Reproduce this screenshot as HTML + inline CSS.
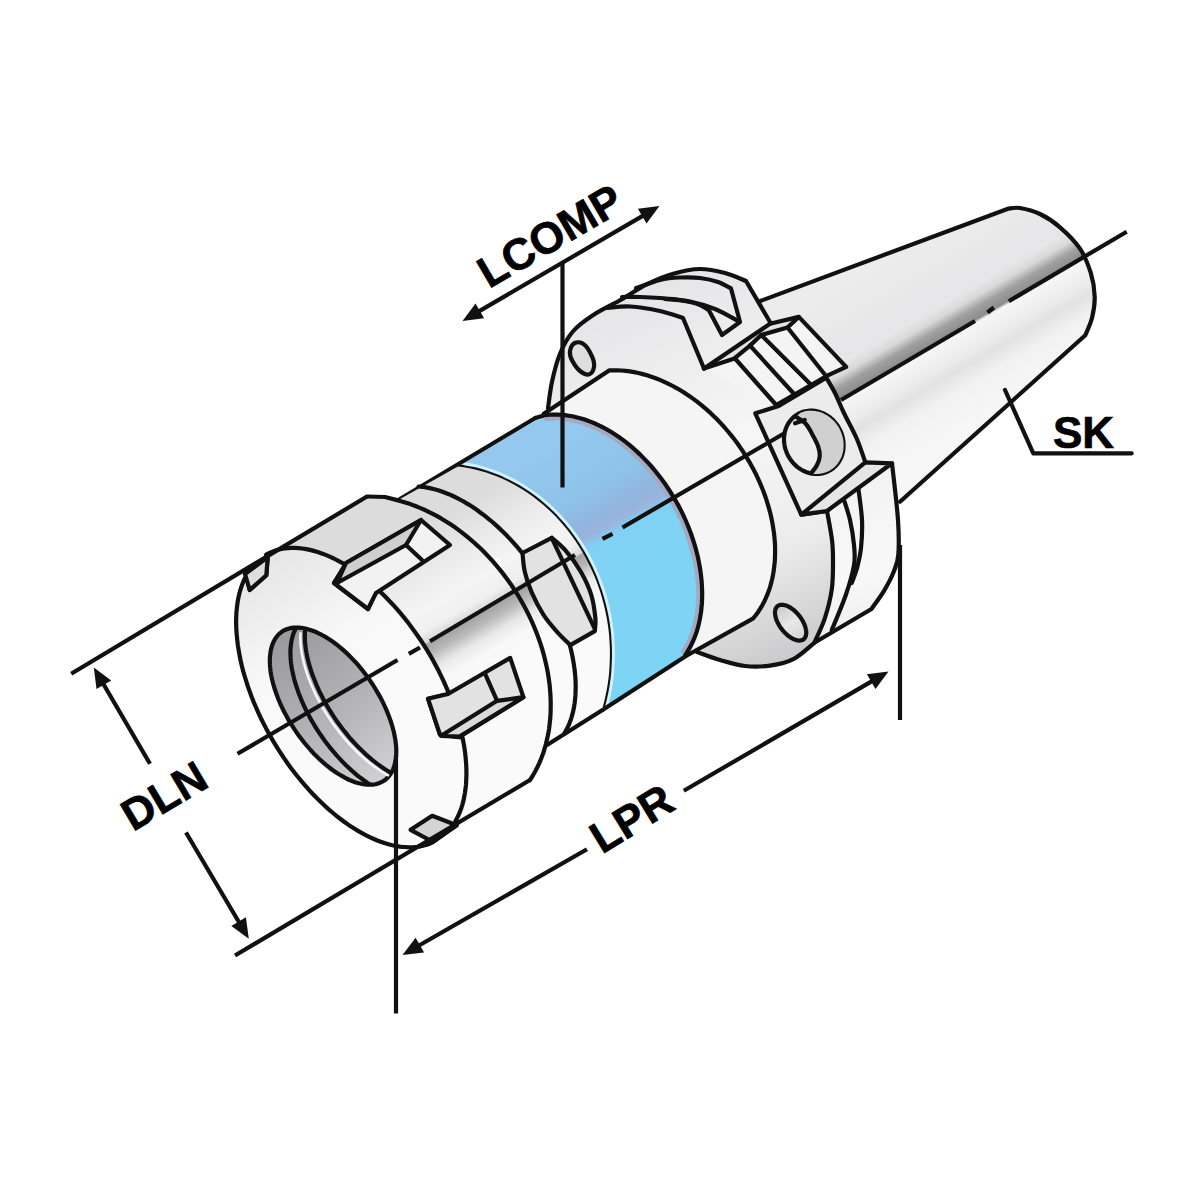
<!DOCTYPE html>
<html><head><meta charset="utf-8"><style>
html,body{margin:0;padding:0;background:#fff;overflow:hidden;}
svg{display:block;}
</style></head><body>
<svg width="1200" height="1200" viewBox="0 0 1200 1200">
<defs>
<linearGradient id="gCone" gradientUnits="userSpaceOnUse" x1="955" y1="215" x2="1050" y2="378">
 <stop offset="0" stop-color="#ececec"/>
 <stop offset="0.38" stop-color="#e6e6e8"/>
 <stop offset="0.43" stop-color="#d8d8d8"/>
 <stop offset="0.48" stop-color="#a0a0a0"/>
 <stop offset="0.535" stop-color="#8c8c8c"/>
 <stop offset="0.55" stop-color="#f6f6f6"/>
 <stop offset="0.66" stop-color="#ececec"/>
 <stop offset="0.72" stop-color="#e2e2e2"/>
 <stop offset="0.82" stop-color="#f2f2f2"/>
 <stop offset="1" stop-color="#f6f6f6"/>
</linearGradient>
<linearGradient id="gFlange" gradientUnits="userSpaceOnUse" x1="640" y1="300" x2="800" y2="670">
 <stop offset="0" stop-color="#e6e6e8"/>
 <stop offset="0.4" stop-color="#f6f6f6"/>
 <stop offset="0.7" stop-color="#ececec"/>
 <stop offset="1" stop-color="#c6c6c8"/>
</linearGradient>
<linearGradient id="gBlue" gradientUnits="userSpaceOnUse" x1="560" y1="440" x2="650" y2="600">
 <stop offset="0" stop-color="#94c8ee"/>
 <stop offset="0.3" stop-color="#8ec4ea"/>
 <stop offset="0.47" stop-color="#92b4de"/>
 <stop offset="0.53" stop-color="#9ab4dc"/>
 <stop offset="0.6" stop-color="#80d2f4"/>
 <stop offset="1" stop-color="#7ed4f4"/>
</linearGradient>
<clipPath id="cBand"><path d="M544.1,415.4L547.6,414.9L551.3,414.7L554.9,414.6L558.6,414.6L562.3,414.9L566.1,415.3L569.9,415.9L573.8,416.6L577.6,417.5L581.5,418.6L585.4,419.8L589.3,421.2L593.2,422.8L597.1,424.5L601.0,426.3L604.9,428.4L608.7,430.5L612.6,432.9L616.4,435.3L620.2,437.9L623.9,440.7L627.6,443.6L631.3,446.6L634.9,449.7L638.5,453.0L642.0,456.4L645.4,459.9L648.8,463.5L652.1,467.2L655.3,471.1L658.5,475.0L661.6,479.0L664.5,483.1L667.4,487.3L670.2,491.6L672.9,495.9L675.5,500.3L678.0,504.8L680.4,509.3L682.6,513.9L684.8,518.5L686.8,523.2L688.8,527.9L690.6,532.6L692.2,537.3L693.8,542.1L695.2,546.8L696.5,551.6L697.7,556.4L698.7,561.1L699.6,565.9L700.4,570.6L701.0,575.3L701.5,579.9L701.9,584.6L702.1,589.1L702.2,593.7L702.1,598.1L701.9,602.6L701.6,606.9L701.1,611.2L700.5,615.4L699.8,619.5L698.9,623.5L697.9,627.5L696.7,631.3L695.5,635.0L694.1,638.7L692.5,642.2L690.9,645.6L689.1,648.9L687.2,652.0L685.2,655.1L602.0,709.8L603.6,703.8L605.1,697.7L606.4,691.6L607.5,685.5L608.4,679.3L609.1,673.0L609.5,666.7L609.8,660.4L609.9,654.1L609.8,647.7L609.5,641.4L609.1,635.1L608.4,628.7L607.5,622.4L606.4,616.2L605.1,610.0L603.6,603.8L601.9,597.6L600.1,591.6L598.0,585.6L595.8,579.6L593.4,573.8L590.8,568.0L588.0,562.4L585.1,556.8L582.0,551.3L578.7,546.0L575.3,540.8L571.7,535.7L568.0,530.8L564.1,526.0L560.0,521.3L555.9,516.8L551.6,512.5L547.1,508.3L542.6,504.3L537.9,500.4L533.1,496.8L528.2,493.3L523.3,490.0L518.2,486.9L513.0,484.0L507.8,481.3L502.4,478.8L497.1,476.5L491.6,474.4L486.1,472.5L480.6,470.9L475.0,469.4L469.3,468.2L463.7,467.2L458.0,466.4Z"/></clipPath>
<linearGradient id="gSilver" gradientUnits="userSpaceOnUse" x1="400" y1="542" x2="500" y2="715">
 <stop offset="0" stop-color="#dcdcdc"/>
 <stop offset="0.18" stop-color="#eaeaea"/>
 <stop offset="0.35" stop-color="#f4f4f4"/>
 <stop offset="0.45" stop-color="#f0f0f0"/>
 <stop offset="0.5" stop-color="#d8d8d8"/>
 <stop offset="0.51" stop-color="#a4a4a4"/>
 <stop offset="0.56" stop-color="#b8b8b8"/>
 <stop offset="0.63" stop-color="#e8e8e8"/>
 <stop offset="0.7" stop-color="#f8f8f8"/>
 <stop offset="1" stop-color="#fafafa"/>
</linearGradient>
<clipPath id="cBore"><path d="M281.8,631.8L283.8,630.5L286.0,629.5L288.2,628.7L290.6,628.1L293.2,627.7L295.8,627.5L298.5,627.6L301.3,627.8L304.2,628.3L307.2,629.0L310.3,629.9L313.4,631.0L316.6,632.3L319.8,633.8L323.0,635.5L326.3,637.4L329.6,639.5L332.9,641.8L336.2,644.2L339.5,646.8L342.8,649.6L346.1,652.6L349.3,655.7L352.4,658.9L355.6,662.2L358.6,665.7L361.6,669.3L364.5,673.0L367.4,676.8L370.1,680.6L372.7,684.5L375.2,688.5L377.6,692.6L379.9,696.6L382.1,700.7L384.1,704.8L386.0,709.0L387.7,713.1L389.3,717.2L390.7,721.2L392.0,725.2L393.1,729.2L394.1,733.1L394.8,736.9L395.5,740.7L395.9,744.3L396.2,747.9L396.3,751.3L396.2,754.6L395.9,757.8L395.5,760.8L394.9,763.7L394.1,766.4L393.2,769.0L392.1,771.4L390.9,773.6L389.4,775.6L387.9,777.4L386.1,779.1L384.3,780.5L382.3,781.7L380.1,782.7L377.8,783.6L375.4,784.2L372.9,784.6L370.3,784.7L367.6,784.7L364.8,784.4L361.9,784.0L358.9,783.3L355.8,782.4L352.7,781.3L349.5,780.0L346.3,778.5L343.1,776.7L339.8,774.8L336.5,772.8L333.2,770.5L329.9,768.0L326.6,765.4L323.3,762.6L320.0,759.7L316.8,756.6L313.6,753.4L310.5,750.0L307.5,746.5L304.5,743.0L301.6,739.3L298.7,735.5L296.0,731.6L293.4,727.7L290.9,723.7L288.4,719.7L286.2,715.6L284.0,711.5L282.0,707.4L280.1,703.3L278.4,699.2L276.8,695.1L275.4,691.0L274.1,687.0L273.0,683.1L272.0,679.2L271.2,675.3L270.6,671.6L270.2,667.9L269.9,664.4L269.8,661.0L269.9,657.7L270.2,654.5L270.6,651.4L271.2,648.6L272.0,645.8L272.9,643.3L274.0,640.9L275.2,638.7L276.7,636.7L278.2,634.8L280.0,633.2Z"/></clipPath>
<linearGradient id="gBore" gradientUnits="userSpaceOnUse" x1="290" y1="640" x2="390" y2="780">
 <stop offset="0" stop-color="#9c9c9e"/>
 <stop offset="0.55" stop-color="#b6b6b8"/>
 <stop offset="1" stop-color="#d2d2d4"/>
</linearGradient>
</defs>
<path d="M760.3,301.0L1008.0,208.7C1010.0,208.6 1014.7,207.1 1020.0,208.0C1025.3,208.9 1033.3,210.8 1040.0,214.0C1046.7,217.2 1053.3,221.5 1060.0,227.3C1066.7,233.1 1074.9,241.1 1080.0,248.7C1085.1,256.3 1088.2,264.7 1090.7,272.7C1093.2,280.7 1094.5,289.1 1094.7,296.7C1094.9,304.2 1093.6,311.6 1092.0,318.0C1090.4,324.4 1086.4,332.4 1085.3,335.3L900.0,501.7L870.0,560.0L760.0,420.0Z" fill="url(#gCone)" stroke="none"/>
<path d="M760.3,301.0L1008.0,208.7C1010.0,208.6 1014.7,207.1 1020.0,208.0C1025.3,208.9 1033.3,210.8 1040.0,214.0C1046.7,217.2 1053.3,221.5 1060.0,227.3C1066.7,233.1 1074.9,241.1 1080.0,248.7C1085.1,256.3 1088.2,264.7 1090.7,272.7C1093.2,280.7 1094.5,289.1 1094.7,296.7C1094.9,304.2 1093.6,311.6 1092.0,318.0C1090.4,324.4 1086.4,332.4 1085.3,335.3L900.0,501.7" fill="none" stroke="#111" stroke-width="4.2" stroke-linejoin="round" stroke-linecap="round"/>
<path d="M548.0,408.3C548.7,403.9 550.0,390.8 552.0,381.7C554.0,372.6 556.5,362.1 560.0,353.7C563.5,345.2 567.8,337.4 573.3,331.0C578.8,324.6 585.5,320.1 593.3,315.0C601.1,309.9 611.1,305.4 620.0,300.3C628.9,295.2 637.8,288.7 646.7,284.3C655.6,279.9 664.4,276.2 673.3,273.7C682.2,271.1 691.4,269.1 700.0,269.0C708.6,268.9 717.3,271.0 725.0,273.0C732.7,275.0 742.5,279.7 746.0,281.0L770.0,322.0L798.8,316.9L846.2,366.9L826.2,376.2C827.7,379.0 832.1,387.0 835.0,393.0C837.9,399.0 840.1,404.9 843.7,412.5C847.3,420.1 853.1,430.2 856.7,438.5C860.3,446.8 863.9,458.3 865.3,462.3L892.0,463.3C893.0,472.8 897.0,504.7 898.0,520.0C899.0,535.3 899.0,546.4 898.3,555.0C897.6,563.6 896.0,565.8 893.7,571.7C891.4,577.6 888.0,584.1 884.3,590.3C880.6,596.5 873.6,605.9 871.5,609.0L814.3,642.8C810.8,645.5 800.7,655.4 793.3,659.2C785.9,663.0 778.0,664.5 770.0,665.6C762.0,666.7 753.3,666.9 745.0,666.0C736.7,665.1 728.0,662.3 720.0,660.0C712.0,657.7 700.8,653.3 697.0,652.0L640.0,600.0Z" fill="url(#gFlange)" stroke="none"/>
<path d="M548.0,408.3C548.7,403.9 550.0,390.8 552.0,381.7C554.0,372.6 556.5,362.1 560.0,353.7C563.5,345.2 567.8,337.4 573.3,331.0C578.8,324.6 585.5,320.1 593.3,315.0C601.1,309.9 611.1,305.4 620.0,300.3C628.9,295.2 637.8,288.7 646.7,284.3C655.6,279.9 664.4,276.2 673.3,273.7C682.2,271.1 691.4,269.1 700.0,269.0C708.6,268.9 717.3,271.0 725.0,273.0C732.7,275.0 742.5,279.7 746.0,281.0L770.0,322.0" fill="none" stroke="#111" stroke-width="4.2" stroke-linejoin="round" stroke-linecap="round"/>
<path d="M636.0,288.0C640.0,286.7 652.7,281.8 660.0,280.0C667.3,278.2 673.3,277.8 680.0,277.5C686.7,277.2 693.7,277.2 700.0,278.0C706.3,278.8 712.8,280.2 718.0,282.0C723.2,283.8 728.8,287.4 731.0,288.5L740.0,322.0L722.0,335.0L709.0,310.5C707.5,309.6 704.8,306.8 700.0,305.0C695.2,303.2 686.7,301.2 680.0,300.0C673.3,298.8 666.7,298.5 660.0,298.0C653.3,297.5 646.3,297.2 640.0,297.0C633.7,296.8 625.0,297.0 622.0,297.0" fill="none" stroke="#111" stroke-width="4.2" stroke-linejoin="round" stroke-linecap="round"/>
<path d="M665.0,299.0C669.2,299.4 681.7,299.8 690.0,301.5C698.3,303.2 707.0,305.8 715.0,309.0C723.0,312.2 734.2,319.0 738.0,321.0" fill="none" stroke="#111" stroke-width="4.2" stroke-linejoin="round" stroke-linecap="round"/>
<path d="M608.0,308.0C611.7,307.8 621.3,306.0 630.0,306.5C638.7,307.0 651.2,309.1 660.0,311.0C668.8,312.9 679.2,316.8 683.0,318.0L704.0,368.5" fill="none" stroke="#111" stroke-width="4.2" stroke-linejoin="round" stroke-linecap="round"/>
<path d="M570.0,351.0C570.5,348.1 572.4,344.1 574.7,343.0C577.0,341.9 581.1,342.1 584.0,344.3C586.9,346.5 590.3,352.5 592.0,356.3C593.7,360.1 594.5,364.0 594.0,367.0C593.5,370.0 591.6,373.6 589.3,374.3C587.0,375.0 582.9,373.3 580.0,371.0C577.1,368.7 573.7,363.6 572.0,360.3C570.3,357.0 569.5,353.9 570.0,351.0Z" fill="#dedede" stroke="#111" stroke-width="4.2" stroke-linejoin="round"/>
<path d="M704.0,368.5L770.0,323.8L798.8,316.9L846.2,366.9L826.2,376.2L776.2,405.0Z" fill="#f4f4f4" stroke="none"/>
<path d="M704.0,368.5L733.8,358.8L750.0,345.6L761.2,335.0L787.5,327.5L798.8,316.9L770.0,323.8Z" fill="#e4e4e4" stroke="none"/>
<path d="M704.0,368.5L770.0,323.8" fill="none" stroke="#111" stroke-width="4.2" stroke-linejoin="round" stroke-linecap="round"/>
<path d="M770.0,323.8L798.8,316.9L846.2,366.9L826.2,376.2L776.2,405.0" fill="none" stroke="#111" stroke-width="4.2" stroke-linejoin="round" stroke-linecap="round"/>
<path d="M704.0,368.5L733.8,358.8L750.0,345.6L761.2,335.0L787.5,327.5L798.8,316.9" fill="none" stroke="#111" stroke-width="4.2" stroke-linejoin="round" stroke-linecap="round"/>
<path d="M735.0,358.5L776.2,405.0" fill="none" stroke="#111" stroke-width="4.2" stroke-linejoin="round" stroke-linecap="round"/>
<path d="M750.0,345.6L795.0,395.0" fill="none" stroke="#111" stroke-width="4.2" stroke-linejoin="round" stroke-linecap="round"/>
<path d="M761.2,335.0L812.5,386.2" fill="none" stroke="#111" stroke-width="4.2" stroke-linejoin="round" stroke-linecap="round"/>
<path d="M787.5,327.5L826.2,376.2" fill="none" stroke="#111" stroke-width="4.2" stroke-linejoin="round" stroke-linecap="round"/>
<defs><linearGradient id="gRim" gradientUnits="userSpaceOnUse" x1="830" y1="480" x2="880" y2="640"><stop offset="0" stop-color="#f2f2f2"/><stop offset="0.6" stop-color="#f8f8f8"/><stop offset="1" stop-color="#ececec"/></linearGradient></defs>
<path d="M827.0,511.0C827.8,515.8 831.0,531.8 832.0,540.0C833.0,548.2 833.0,551.8 833.0,560.0C833.0,568.2 833.2,579.5 831.8,589.2C830.4,598.9 827.7,609.4 824.8,618.3C821.9,627.2 816.0,638.7 814.3,642.8L871.5,609.0C873.6,605.9 880.6,596.5 884.3,590.3C888.0,584.1 891.4,577.6 893.7,571.7C896.0,565.8 897.6,563.6 898.3,555.0C899.0,546.4 899.0,535.3 898.0,520.0C897.0,504.7 893.0,472.8 892.0,463.3Z" fill="url(#gRim)" stroke="none"/>
<path d="M827.0,511.0C827.8,515.8 831.0,531.8 832.0,540.0C833.0,548.2 833.0,551.8 833.0,560.0C833.0,568.2 833.2,579.5 831.8,589.2C830.4,598.9 827.7,609.4 824.8,618.3C821.9,627.2 816.0,638.7 814.3,642.8" fill="none" stroke="#111" stroke-width="4.2" stroke-linejoin="round" stroke-linecap="round"/>
<path d="M844.0,500.0C845.0,503.3 848.3,512.5 850.0,520.0C851.7,527.5 853.3,537.5 854.0,545.0C854.7,552.5 855.4,556.7 854.0,565.0C852.6,573.3 849.5,584.2 845.8,595.0C842.1,605.8 834.1,624.2 831.8,630.0" fill="none" stroke="#111" stroke-width="4.2" stroke-linejoin="round" stroke-linecap="round"/>
<path d="M858.0,486.0C858.7,491.7 861.5,509.7 862.0,520.0C862.5,530.3 861.8,540.0 861.0,548.0C860.2,556.0 858.5,562.2 857.0,568.0C855.5,573.8 852.6,580.5 851.7,583.0" fill="none" stroke="#111" stroke-width="4.2" stroke-linejoin="round" stroke-linecap="round"/>
<path d="M892.0,463.3C893.0,472.8 897.0,504.7 898.0,520.0C899.0,535.3 899.0,546.4 898.3,555.0C897.6,563.6 896.0,565.8 893.7,571.7C891.4,577.6 888.0,584.1 884.3,590.3C880.6,596.5 873.6,605.9 871.5,609.0L814.3,642.8C810.8,645.5 800.7,655.4 793.3,659.2C785.9,663.0 778.0,664.5 770.0,665.6C762.0,666.7 753.3,666.9 745.0,666.0C736.7,665.1 728.0,662.3 720.0,660.0C712.0,657.7 700.8,653.3 697.0,652.0" fill="none" stroke="#111" stroke-width="4.2" stroke-linejoin="round" stroke-linecap="round"/>
<path d="M755.3,413.3L778.7,406.0L826.4,377.8C827.8,380.3 832.1,387.2 835.0,393.0C837.9,398.8 840.1,404.9 843.7,412.5C847.3,420.1 853.1,430.2 856.7,438.5C860.3,446.8 863.9,458.3 865.3,462.3L827.0,511.0L801.3,514.7Z" fill="#ececec" stroke="#111" stroke-width="4.2" stroke-linejoin="round"/>
<path d="M801.3,514.7L827.0,511.0L892.0,463.3L865.3,462.3Z" fill="#e6e6e6" stroke="#111" stroke-width="4.2" stroke-linejoin="round"/>
<path d="M798.2,413.9L799.6,413.2L801.0,412.6L802.4,412.1L803.9,411.6L805.4,411.3L806.9,411.0L808.4,410.8L809.9,410.7L811.5,410.7L813.0,410.7L814.6,410.9L816.2,411.1L817.7,411.5L819.3,411.9L820.8,412.4L822.3,412.9L823.8,413.6L825.2,414.3L826.7,415.2L828.0,416.0L829.4,417.0L830.7,418.0L832.0,419.1L833.2,420.3L834.3,421.5L835.4,422.8L836.5,424.1L837.5,425.5L838.4,426.9L839.2,428.4L840.0,429.9L840.7,431.4L841.4,433.0L841.9,434.6L842.4,436.2L842.8,437.8L843.1,439.5L843.4,441.1L843.5,442.8L843.6,444.5L843.6,446.1L843.5,447.7L843.4,449.4L843.1,451.0L842.8,452.6L842.4,454.1L841.9,455.6L841.4,457.1L840.7,458.6L840.0,460.0L839.2,461.3L838.4,462.6L837.5,463.9L836.5,465.0L835.5,466.2L834.3,467.2L833.2,468.2L832.0,469.1L830.7,470.0L829.4,470.7L828.0,471.4L826.7,472.0L825.2,472.6L823.8,473.0L822.3,473.4L820.8,473.7L819.3,473.8L817.7,473.9L816.2,474.0L814.6,473.9L813.0,473.7L811.5,473.5L809.9,473.2L808.4,472.8L806.9,472.3L805.4,471.7L803.9,471.0L802.4,470.3L801.0,469.5L799.6,468.6L798.2,467.6L796.9,466.6L795.7,465.5L794.5,464.4L793.3,463.1L792.2,461.9L791.2,460.5L790.2,459.1L789.3,457.7L788.4,456.3L787.6,454.7L786.9,453.2L786.3,451.6L785.7,450.0L785.2,448.4L784.8,446.8L784.5,445.1L784.3,443.5L784.1,441.8L784.0,440.2L784.0,438.5L784.1,436.9L784.3,435.3L784.5,433.7L784.8,432.1L785.2,430.5L785.7,429.0L786.3,427.5L786.9,426.1L787.6,424.7L788.4,423.3L789.3,422.0L790.2,420.8L791.2,419.6L792.2,418.5L793.3,417.4L794.5,416.4L795.7,415.5L796.9,414.7Z" fill="#ececec" stroke="#111" stroke-width="4.2" stroke-linejoin="round"/>
<path d="M796.0,416.8C797.7,418.0 803.1,420.8 806.0,424.0C808.9,427.2 811.3,432.6 813.3,436.3C815.3,440.0 816.9,442.8 818.0,446.0C819.1,449.2 820.0,452.6 819.8,455.8C819.6,459.0 818.4,462.1 817.0,465.0C815.6,467.9 812.2,471.8 811.2,473.2L811.2,473.4L812.2,473.6L813.3,473.8L814.3,473.9L815.3,473.9L816.4,474.0L817.4,474.0L818.5,473.9L819.5,473.8L820.5,473.7L821.5,473.5L822.5,473.3L823.5,473.1L824.5,472.8L825.4,472.5L826.4,472.1L827.3,471.8L828.3,471.3L829.2,470.9L830.0,470.4L830.9,469.8L831.8,469.3L832.6,468.7L833.4,468.1L834.1,467.4L834.9,466.7L835.6,466.0L836.3,465.2L837.0,464.5L837.6,463.7L838.2,462.8L838.8,462.0L839.4,461.1L839.9,460.2L840.4,459.3L840.8,458.3L841.3,457.4L841.7,456.4L842.0,455.4L842.3,454.4L842.6,453.3L842.9,452.3L843.1,451.2L843.3,450.2L843.4,449.1L843.5,448.0L843.6,446.9L843.6,445.8L843.6,444.7L843.6,443.6L843.5,442.5L843.4,441.4L843.3,440.3L843.1,439.2L842.9,438.1L842.6,437.0L842.3,435.9L842.0,434.8L841.6,433.8L841.3,432.7L840.8,431.7L840.4,430.6L839.9,429.6L839.4,428.6L838.8,427.6L838.2,426.6L837.6,425.7L837.0,424.8L836.3,423.8L835.6,423.0L834.9,422.1L834.1,421.3L833.3,420.4L832.5,419.7L831.7,418.9L830.9,418.2L830.0,417.5L829.1,416.8L828.2,416.2L827.3,415.6L826.4,415.0L825.4,414.4L824.4,413.9L823.5,413.5L822.5,413.0L821.5,412.6L820.5,412.3L819.4,411.9L818.4,411.6L817.4,411.4L816.3,411.2L815.3,411.0L814.3,410.9L813.2,410.8L812.2,410.7L811.1,410.7L810.1,410.7L809.1,410.7L808.0,410.8L807.0,411.0L806.0,411.1L805.0,411.3L804.0,411.6L803.1,411.9L802.1,412.2L801.1,412.5L800.2,412.9Z" fill="#d0d0d0" stroke="none"/>
<path d="M796.0,416.8C797.7,418.0 803.1,420.8 806.0,424.0C808.9,427.2 811.3,432.6 813.3,436.3C815.3,440.0 816.9,442.8 818.0,446.0C819.1,449.2 820.0,452.6 819.8,455.8C819.6,459.0 818.4,462.1 817.0,465.0C815.6,467.9 812.2,471.8 811.2,473.2" fill="none" stroke="#111" stroke-width="4.2" stroke-linejoin="round" stroke-linecap="round"/>
<path d="M795.0,423.3L804.7,420.0" fill="none" stroke="#111" stroke-width="4.2" stroke-linejoin="round" stroke-linecap="round"/>
<defs><linearGradient id="gHole3" gradientUnits="userSpaceOnUse" x1="780" y1="605" x2="802" y2="640"><stop offset="0" stop-color="#c8c8c8"/><stop offset="0.5" stop-color="#e8e8e8"/><stop offset="1" stop-color="#d4d4d4"/></linearGradient></defs>
<path d="M777.6,606.1L778.1,605.8L778.6,605.5L779.1,605.2L779.7,605.0L780.3,604.9L780.9,604.8L781.6,604.8L782.3,604.8L783.0,604.8L783.7,604.9L784.4,605.1L785.2,605.3L786.0,605.5L786.8,605.8L787.6,606.1L788.4,606.5L789.2,607.0L790.0,607.4L790.8,607.9L791.6,608.5L792.4,609.1L793.3,609.7L794.1,610.4L794.9,611.1L795.6,611.8L796.4,612.6L797.2,613.4L797.9,614.2L798.6,615.0L799.3,615.9L800.0,616.7L800.6,617.6L801.2,618.5L801.8,619.5L802.4,620.4L802.9,621.3L803.4,622.3L803.8,623.2L804.3,624.1L804.6,625.1L805.0,626.0L805.3,626.9L805.5,627.8L805.8,628.7L805.9,629.6L806.1,630.4L806.2,631.3L806.2,632.1L806.3,632.9L806.2,633.6L806.1,634.4L806.0,635.0L805.9,635.7L805.7,636.3L805.4,636.9L805.1,637.5L804.8,638.0L804.5,638.4L804.1,638.9L803.6,639.2L803.2,639.6L802.7,639.9L802.1,640.1L801.5,640.3L800.9,640.4L800.3,640.5L799.7,640.6L799.0,640.6L798.3,640.5L797.6,640.4L796.8,640.3L796.1,640.1L795.3,639.8L794.5,639.5L793.7,639.2L792.9,638.8L792.1,638.4L791.3,637.9L790.4,637.4L789.6,636.8L788.8,636.2L788.0,635.6L787.2,634.9L786.4,634.2L785.6,633.5L784.9,632.8L784.1,632.0L783.4,631.2L782.7,630.3L782.0,629.5L781.3,628.6L780.7,627.7L780.0,626.8L779.5,625.9L778.9,624.9L778.4,624.0L777.9,623.1L777.4,622.1L777.0,621.2L776.6,620.3L776.3,619.3L776.0,618.4L775.7,617.5L775.5,616.6L775.3,615.7L775.2,614.9L775.1,614.1L775.0,613.2L775.0,612.5L775.0,611.7L775.1,611.0L775.2,610.3L775.4,609.6L775.6,609.0L775.8,608.4L776.1,607.9L776.4,607.4L776.8,606.9L777.2,606.5Z" fill="url(#gHole3)" stroke="#111" stroke-width="4.2" stroke-linejoin="round"/>
<path d="M543.8,413.8L609.1,370.4L613.2,370.3L617.3,370.3L621.4,370.5L625.6,370.9L629.9,371.4L634.1,372.1L638.4,373.0L642.7,374.1L647.0,375.3L651.3,376.7L655.6,378.2L659.9,379.9L664.2,381.8L668.5,383.8L672.8,386.0L677.0,388.3L681.2,390.8L685.4,393.4L689.6,396.2L693.7,399.1L697.7,402.2L701.7,405.4L705.6,408.7L709.5,412.1L713.3,415.7L717.0,419.3L720.6,423.1L724.2,427.0L727.6,431.0L731.0,435.1L734.3,439.3L737.5,443.5L740.5,447.9L743.5,452.3L746.3,456.8L749.0,461.3L751.6,466.0L754.1,470.6L756.5,475.3L758.7,480.1L760.8,484.9L762.8,489.7L764.6,494.5L766.3,499.4L767.8,504.3L769.2,509.1L770.5,514.0L771.6,518.9L772.5,523.7L773.3,528.5L774.0,533.3L774.5,538.1L774.9,542.9L775.1,547.6L775.1,552.2L775.0,556.8L774.8,561.3L774.3,565.8L773.8,570.2L773.1,574.5L772.2,578.7L771.2,582.9L770.1,586.9L768.8,590.8L767.3,594.7L765.7,598.4L764.0,602.1L762.1,605.6L760.1,608.9L758.0,612.2L755.7,615.3L753.3,618.3L686.0,656.0Z" fill="#f5f5f5" stroke="none"/>
<path d="M543.8,413.8L609.1,370.4L613.2,370.3L617.3,370.3L621.4,370.5L625.6,370.9L629.9,371.4L634.1,372.1L638.4,373.0L642.7,374.1L647.0,375.3L651.3,376.7L655.6,378.2L659.9,379.9L664.2,381.8L668.5,383.8L672.8,386.0L677.0,388.3L681.2,390.8L685.4,393.4L689.6,396.2L693.7,399.1L697.7,402.2L701.7,405.4L705.6,408.7L709.5,412.1L713.3,415.7L717.0,419.3L720.6,423.1L724.2,427.0L727.6,431.0L731.0,435.1L734.3,439.3L737.5,443.5L740.5,447.9L743.5,452.3L746.3,456.8L749.0,461.3L751.6,466.0L754.1,470.6L756.5,475.3L758.7,480.1L760.8,484.9L762.8,489.7L764.6,494.5L766.3,499.4L767.8,504.3L769.2,509.1L770.5,514.0L771.6,518.9L772.5,523.7L773.3,528.5L774.0,533.3L774.5,538.1L774.9,542.9L775.1,547.6L775.1,552.2L775.0,556.8L774.8,561.3L774.3,565.8L773.8,570.2L773.1,574.5L772.2,578.7L771.2,582.9L770.1,586.9L768.8,590.8L767.3,594.7L765.7,598.4L764.0,602.1L762.1,605.6L760.1,608.9L758.0,612.2L755.7,615.3L753.3,618.3L686.0,656.0" fill="none" stroke="#111" stroke-width="4.2" stroke-linejoin="round" stroke-linecap="round"/>
<path d="M544.1,415.4L547.6,414.9L551.3,414.7L554.9,414.6L558.6,414.6L562.3,414.9L566.1,415.3L569.9,415.9L573.8,416.6L577.6,417.5L581.5,418.6L585.4,419.8L589.3,421.2L593.2,422.8L597.1,424.5L601.0,426.3L604.9,428.4L608.7,430.5L612.6,432.9L616.4,435.3L620.2,437.9L623.9,440.7L627.6,443.6L631.3,446.6L634.9,449.7L638.5,453.0L642.0,456.4L645.4,459.9L648.8,463.5L652.1,467.2L655.3,471.1L658.5,475.0L661.6,479.0L664.5,483.1L667.4,487.3L670.2,491.6L672.9,495.9L675.5,500.3L678.0,504.8L680.4,509.3L682.6,513.9L684.8,518.5L686.8,523.2L688.8,527.9L690.6,532.6L692.2,537.3L693.8,542.1L695.2,546.8L696.5,551.6L697.7,556.4L698.7,561.1L699.6,565.9L700.4,570.6L701.0,575.3L701.5,579.9L701.9,584.6L702.1,589.1L702.2,593.7L702.1,598.1L701.9,602.6L701.6,606.9L701.1,611.2L700.5,615.4L699.8,619.5L698.9,623.5L697.9,627.5L696.7,631.3L695.5,635.0L694.1,638.7L692.5,642.2L690.9,645.6L689.1,648.9L687.2,652.0L685.2,655.1L602.0,709.8L603.6,703.8L605.1,697.7L606.4,691.6L607.5,685.5L608.4,679.3L609.1,673.0L609.5,666.7L609.8,660.4L609.9,654.1L609.8,647.7L609.5,641.4L609.1,635.1L608.4,628.7L607.5,622.4L606.4,616.2L605.1,610.0L603.6,603.8L601.9,597.6L600.1,591.6L598.0,585.6L595.8,579.6L593.4,573.8L590.8,568.0L588.0,562.4L585.1,556.8L582.0,551.3L578.7,546.0L575.3,540.8L571.7,535.7L568.0,530.8L564.1,526.0L560.0,521.3L555.9,516.8L551.6,512.5L547.1,508.3L542.6,504.3L537.9,500.4L533.1,496.8L528.2,493.3L523.3,490.0L518.2,486.9L513.0,484.0L507.8,481.3L502.4,478.8L497.1,476.5L491.6,474.4L486.1,472.5L480.6,470.9L475.0,469.4L469.3,468.2L463.7,467.2L458.0,466.4Z" fill="url(#gBlue)" stroke="none"/>
<g clip-path="url(#cBand)">
<path d="M544.1,415.4L547.6,414.9L551.3,414.7L554.9,414.6L558.6,414.6L562.3,414.9L566.1,415.3L569.9,415.9L573.8,416.6L577.6,417.5L581.5,418.6L585.4,419.8L589.3,421.2L593.2,422.8L597.1,424.5L601.0,426.3L604.9,428.4L608.7,430.5L612.6,432.9L616.4,435.3L620.2,437.9L623.9,440.7L627.6,443.6L631.3,446.6L634.9,449.7L638.5,453.0L642.0,456.4L645.4,459.9L648.8,463.5L652.1,467.2L655.3,471.1L658.5,475.0L661.6,479.0L664.5,483.1L667.4,487.3L670.2,491.6L672.9,495.9L675.5,500.3L678.0,504.8L680.4,509.3L682.6,513.9L684.8,518.5L686.8,523.2L688.8,527.9L690.6,532.6L692.2,537.3L693.8,542.1L695.2,546.8L696.5,551.6L697.7,556.4L698.7,561.1L699.6,565.9L700.4,570.6L701.0,575.3L701.5,579.9L701.9,584.6L702.1,589.1L702.2,593.7L702.1,598.1L701.9,602.6L701.6,606.9L701.1,611.2L700.5,615.4L699.8,619.5L698.9,623.5L697.9,627.5L696.7,631.3L695.5,635.0L694.1,638.7L692.5,642.2L690.9,645.6L689.1,648.9L687.2,652.0L685.2,655.1" fill="none" stroke="#a4a8c0" stroke-width="12"/>
<path d="M458.0,466.4L463.7,467.2L469.3,468.2L475.0,469.4L480.6,470.9L486.1,472.5L491.6,474.4L497.1,476.5L502.4,478.8L507.8,481.3L513.0,484.0L518.2,486.9L523.3,490.0L528.2,493.3L533.1,496.8L537.9,500.4L542.6,504.3L547.1,508.3L551.6,512.5L555.9,516.8L560.0,521.3L564.1,526.0L568.0,530.8L571.7,535.7L575.3,540.8L578.7,546.0L582.0,551.3L585.1,556.8L588.0,562.4L590.8,568.0L593.4,573.8L595.8,579.6L598.0,585.6L600.1,591.6L601.9,597.6L603.6,603.8L605.1,610.0L606.4,616.2L607.5,622.4L608.4,628.7L609.1,635.1L609.5,641.4L609.8,647.7L609.9,654.1L609.8,660.4L609.5,666.7L609.1,673.0L608.4,679.3L607.5,685.5L606.4,691.6L605.1,697.7L603.6,703.8L602.0,709.8" fill="none" stroke="#d0f2fc" stroke-width="10"/>
</g>
<path d="M535.3,418.0C536.6,417.6 542.0,416.1 543.3,415.7L543.2,415.5L546.7,415.0L550.3,414.7L553.9,414.6L557.5,414.6L561.2,414.8L565.0,415.1L568.7,415.7L572.5,416.3L576.3,417.2L580.2,418.2L584.0,419.3L587.9,420.7L591.7,422.1L595.6,423.8L599.4,425.6L603.3,427.5L607.1,429.6L610.9,431.8L614.7,434.2L618.5,436.7L622.2,439.4L625.9,442.2L629.6,445.1L633.2,448.2L636.7,451.4L640.2,454.6L643.6,458.1L647.0,461.6L650.3,465.2L653.6,469.0L656.7,472.8L659.8,476.7L662.8,480.7L665.7,484.8L668.5,489.0L671.3,493.3L673.9,497.6L676.4,502.0L678.9,506.4L681.2,510.9L683.4,515.4L685.5,520.0L687.5,524.7L689.3,529.3L691.1,534.0L692.7,538.7L694.2,543.4L695.6,548.1L696.8,552.8L698.0,557.5L698.9,562.2L699.8,566.9L700.5,571.6L701.1,576.2L701.6,580.8L701.9,585.4L702.1,589.9L702.2,594.4L702.1,598.8L701.9,603.2L701.5,607.5L701.1,611.7L700.4,615.8L699.7,619.9L698.8,623.9L697.8,627.8L696.7,631.6L695.4,635.3L694.0,638.9L692.5,642.3L690.8,645.7L689.1,648.9L687.2,652.1L685.2,655.1" fill="none" stroke="#111" stroke-width="4.2" stroke-linejoin="round" stroke-linecap="round"/>
<path d="M458.0,466.4L463.7,467.2L469.3,468.2L475.0,469.4L480.6,470.9L486.1,472.5L491.6,474.4L497.1,476.5L502.4,478.8L507.8,481.3L513.0,484.0L518.2,486.9L523.3,490.0L528.2,493.3L533.1,496.8L537.9,500.4L542.6,504.3L547.1,508.3L551.6,512.5L555.9,516.8L560.0,521.3L564.1,526.0L568.0,530.8L571.7,535.7L575.3,540.8L578.7,546.0L582.0,551.3L585.1,556.8L588.0,562.4L590.8,568.0L593.4,573.8L595.8,579.6L598.0,585.6L600.1,591.6L601.9,597.6L603.6,603.8L605.1,610.0L606.4,616.2L607.5,622.4L608.4,628.7L609.1,635.1L609.5,641.4L609.8,647.7L609.9,654.1L609.8,660.4L609.5,666.7L609.1,673.0L608.4,679.3L607.5,685.5L606.4,691.6L605.1,697.7L603.6,703.8L602.0,709.8" fill="none" stroke="#111" stroke-width="4.2" stroke-linejoin="round" stroke-linecap="round"/>
<path d="M400.0,499.0L535.3,418.0" fill="none" stroke="#111" stroke-width="4.2" stroke-linejoin="round" stroke-linecap="round"/>
<path d="M602.5,710.0L686.0,656.0" fill="none" stroke="#111" stroke-width="4.2" stroke-linejoin="round" stroke-linecap="round"/>
<path d="M400.0,499.0L458.0,466.4L463.7,467.2L469.3,468.2L475.0,469.4L480.6,470.9L486.1,472.5L491.6,474.4L497.1,476.5L502.4,478.8L507.8,481.3L513.0,484.0L518.2,486.9L523.3,490.0L528.2,493.3L533.1,496.8L537.9,500.4L542.6,504.3L547.1,508.3L551.6,512.5L555.9,516.8L560.0,521.3L564.1,526.0L568.0,530.8L571.7,535.7L575.3,540.8L578.7,546.0L582.0,551.3L585.1,556.8L588.0,562.4L590.8,568.0L593.4,573.8L595.8,579.6L598.0,585.6L600.1,591.6L601.9,597.6L603.6,603.8L605.1,610.0L606.4,616.2L607.5,622.4L608.4,628.7L609.1,635.1L609.5,641.4L609.8,647.7L609.9,654.1L609.8,660.4L609.5,666.7L609.1,673.0L608.4,679.3L607.5,685.5L606.4,691.6L605.1,697.7L603.6,703.8L602.0,709.8L547.0,745.0L540.0,700.0L500.0,560.0Z" fill="url(#gSilver)" stroke="none"/>
<path d="M418.6,486.5L422.3,486.8L425.9,487.4L429.7,488.1L433.5,489.0L437.3,490.0L441.1,491.3L445.0,492.7L448.9,494.2L452.9,496.0L456.8,497.9L460.8,500.0L464.8,502.2L468.8,504.6L472.7,507.1L476.7,509.8L480.6,512.7L484.6,515.6L488.5,518.8L492.4,522.0L496.2,525.4L500.0,528.9L503.7,532.6L507.5,536.3L511.1,540.2L514.7,544.1L518.2,548.2L521.7,552.4" fill="none" stroke="#111" stroke-width="4.2" stroke-linejoin="round" stroke-linecap="round"/>
<path d="M522.5,553.0L551.7,537.8C554.0,539.9 560.9,545.1 565.7,550.7C570.6,556.4 576.5,564.3 580.8,571.7C585.1,579.1 588.9,587.2 591.3,595.0C593.7,602.8 594.8,612.3 595.4,618.3C596.0,624.3 594.9,629.0 594.8,631.1L570.3,645.1C568.2,643.0 562.0,637.3 557.5,632.3C553.0,627.2 547.8,621.4 543.5,614.8C539.2,608.2 534.9,599.9 531.8,592.7C528.7,585.5 526.3,578.3 524.8,571.7C523.2,565.1 522.9,556.1 522.5,553.0Z" fill="#e2e2e2" stroke="#111" stroke-width="4.2" stroke-linejoin="round"/>
<path d="M551.7,537.8L594.8,628.8" fill="none" stroke="#111" stroke-width="4.2" stroke-linejoin="round" stroke-linecap="round"/>
<path d="M569.8,645.0L571.0,649.8L572.1,654.6L573.0,659.4L573.8,664.1L574.5,668.7L575.0,673.3L575.4,677.9L575.6,682.3L575.7,686.7L575.6,691.0L575.4,695.2L575.1,699.3L574.6,703.3L574.0,707.2L573.2,711.0L572.3,714.7L571.3,718.2L570.1,721.6L568.8,724.9L567.3,728.1L565.7,731.1L564.0,734.0" fill="none" stroke="#111" stroke-width="4.2" stroke-linejoin="round" stroke-linecap="round"/>
<path d="M547.0,745.0L602.5,710.0" fill="none" stroke="#111" stroke-width="4.2" stroke-linejoin="round" stroke-linecap="round"/>
<path d="M367.0,496.5L385.0,497.0L400.0,500.9L405.2,502.4L410.3,504.1L415.4,506.0L420.5,508.1L425.6,510.3L430.7,512.8L435.7,515.4L440.7,518.2L445.6,521.2L450.5,524.3L455.4,527.6L460.1,531.1L464.9,534.8L469.5,538.6L474.0,542.5L478.5,546.6L482.9,550.8L487.2,555.2L491.4,559.7L495.4,564.3L499.4,569.1L503.2,573.9L507.0,578.9L510.6,583.9L514.0,589.1L517.4,594.3L520.6,599.7L523.6,605.1L526.5,610.5L529.3,616.1L531.9,621.6L534.3,627.3L536.6,632.9L538.7,638.6L540.7,644.4L542.5,650.1L544.1,655.9L545.5,661.7L546.8,667.4L547.9,673.2L548.8,678.9L549.6,684.7L550.1,690.4L550.5,696.0L550.7,701.6L550.7,707.2L550.6,712.7L550.3,718.1L549.7,723.5L549.1,728.8L548.2,734.0L547.1,739.1L545.9,744.1L544.5,749.0L543.0,753.8L541.2,758.5L539.3,763.1L537.2,767.5L535.0,771.8L532.6,776.0L530.0,780.0L433.0,841.0L330.0,815.0L250.0,700.0L244.0,571.0Z" fill="url(#gSilver)" stroke="none"/>
<path d="M367.0,496.5L385.0,497.0L400.0,500.9L405.2,502.4L410.3,504.1L415.4,506.0L420.5,508.1L425.6,510.3L430.7,512.8L435.7,515.4L440.7,518.2L445.6,521.2L450.5,524.3L455.4,527.6L460.1,531.1L464.9,534.8L469.5,538.6L474.0,542.5L478.5,546.6L482.9,550.8L487.2,555.2L491.4,559.7L495.4,564.3L499.4,569.1L503.2,573.9L507.0,578.9L510.6,583.9L514.0,589.1L517.4,594.3L520.6,599.7L523.6,605.1L526.5,610.5L529.3,616.1L531.9,621.6L534.3,627.3L536.6,632.9L538.7,638.6L540.7,644.4L542.5,650.1L544.1,655.9L545.5,661.7L546.8,667.4L547.9,673.2L548.8,678.9L549.6,684.7L550.1,690.4L550.5,696.0L550.7,701.6L550.7,707.2L550.6,712.7L550.3,718.1L549.7,723.5L549.1,728.8L548.2,734.0L547.1,739.1L545.9,744.1L544.5,749.0L543.0,753.8L541.2,758.5L539.3,763.1L537.2,767.5L535.0,771.8L532.6,776.0L530.0,780.0" fill="none" stroke="#111" stroke-width="4.2" stroke-linejoin="round" stroke-linecap="round"/>
<defs><linearGradient id="gFace" gradientUnits="userSpaceOnUse" x1="250" y1="570" x2="340" y2="720"><stop offset="0" stop-color="#e6e6e6"/><stop offset="0.6" stop-color="#f8f8f8"/><stop offset="1" stop-color="#fafafa"/></linearGradient></defs>
<path d="M266.1,554.7L269.0,553.2L271.9,551.9L274.9,550.7L278.1,549.8L281.3,549.0L284.6,548.5L288.0,548.1L291.5,547.9L295.0,547.9L298.7,548.2L302.4,548.5L306.1,549.1L310.0,549.9L313.8,550.9L317.7,552.0L321.7,553.4L325.7,554.9L329.7,556.6L333.8,558.5L337.9,560.6L342.0,562.8L346.1,565.2L334.0,583.0L368.0,609.0L377.0,588.7L381.0,592.4L384.9,596.2L388.7,600.2L392.5,604.2L396.3,608.4L400.0,612.7L403.7,617.1L407.3,621.6L410.8,626.2L414.2,630.9L417.6,635.7L420.9,640.5L424.1,645.4L427.2,650.4L430.2,655.4L433.1,660.5L435.9,665.7L438.6,670.8L441.2,676.1L443.7,681.3L446.0,686.6L448.3,691.8L448.0,694.0L428.0,698.7L440.0,734.7L462.6,737.7L463.5,742.7L464.4,747.7L465.1,752.6L465.6,757.4L466.0,762.2L466.3,766.9L466.4,771.5L466.4,776.0L466.2,780.4L466.0,784.7L465.5,788.9L464.9,793.0L464.2,797.0L463.4,800.9L462.4,804.6L461.3,808.2L460.0,811.6L458.6,815.0L457.1,818.1L455.4,821.2L456.7,825.2L432.7,842.4L429.8,843.7L426.8,844.7L423.7,845.6L420.5,846.3L417.2,846.8L413.9,847.1L410.4,847.3L406.9,847.2L403.3,847.0L399.7,846.6L396.0,846.0L392.2,845.2L388.4,844.2L384.5,843.1L380.6,841.7L376.7,840.2L372.7,838.5L368.7,836.7L364.7,834.6L360.7,832.4L356.7,830.1L352.6,827.5L348.6,824.9L344.5,822.0L340.5,819.0L336.4,815.8L332.4,812.5L328.4,809.1L324.5,805.5L320.6,801.8L316.7,798.0L312.8,794.0L309.0,789.9L305.3,785.7L301.6,781.4L298.0,777.0L294.4,772.5L290.9,767.9L287.5,763.2L284.2,758.4L280.9,753.5L277.8,748.6L274.7,743.6L271.7,738.6L268.9,733.5L266.1,728.4L263.4,723.2L260.8,718.0L258.4,712.8L256.1,707.5L253.8,702.3L251.7,697.0L249.8,691.7L247.9,686.5L246.2,681.2L244.6,676.0L243.1,670.8L241.8,665.7L240.6,660.5L239.6,655.5L238.7,650.4L237.9,645.5L237.3,640.6L236.8,635.7L236.4,631.0L236.2,626.3L236.1,621.7L236.2,617.2L236.4,612.8L236.8,608.5L237.3,604.4L237.9,600.3L238.7,596.4L239.6,592.5L240.7,588.9L241.9,585.3L243.2,581.9L244.7,578.6L246.3,575.5L249.7,590.0L266.3,575.3L267.7,557.3Z" fill="url(#gFace)" stroke="#111" stroke-width="4.2" stroke-linejoin="round"/>
<path d="M334.0,583.0L346.0,563.0L421.0,520.0L450.0,545.0L376.0,593.0L368.0,609.0Z" fill="#f2f2f2" stroke="#111" stroke-width="4.2" stroke-linejoin="round"/>
<path d="M337.0,583.0L346.0,563.0L421.0,520.0L406.0,545.0Z" fill="#cfcfcf" stroke="#111" stroke-width="4.2" stroke-linejoin="round"/>
<path d="M406.0,545.0L422.0,560.0" fill="none" stroke="#111" stroke-width="4.2" stroke-linejoin="round" stroke-linecap="round"/>
<path d="M428.0,698.7L440.0,734.7L459.5,736.6L523.4,697.2L510.2,657.9L448.0,694.0Z" fill="#e2e2e2" stroke="#111" stroke-width="4.2" stroke-linejoin="round"/>
<path d="M441.1,735.8L497.1,700.8L523.4,697.2L459.5,736.6Z" fill="#dadada" stroke="#111" stroke-width="4.2" stroke-linejoin="round"/>
<path d="M485.8,675.4L497.1,700.8" fill="none" stroke="#111" stroke-width="4.2" stroke-linejoin="round" stroke-linecap="round"/>
<path d="M410.6,829.8L432.2,815.8L456.7,825.2L432.2,841.5Z" fill="#d4d4d4" stroke="#111" stroke-width="4.2" stroke-linejoin="round"/>
<path d="M245.0,574.0L249.7,590.0L266.3,575.3L267.7,557.3Z" fill="#dedede" stroke="#111" stroke-width="4.2" stroke-linejoin="round"/>
<path d="M281.8,631.8L283.8,630.5L286.0,629.5L288.2,628.7L290.6,628.1L293.2,627.7L295.8,627.5L298.5,627.6L301.3,627.8L304.2,628.3L307.2,629.0L310.3,629.9L313.4,631.0L316.6,632.3L319.8,633.8L323.0,635.5L326.3,637.4L329.6,639.5L332.9,641.8L336.2,644.2L339.5,646.8L342.8,649.6L346.1,652.6L349.3,655.7L352.4,658.9L355.6,662.2L358.6,665.7L361.6,669.3L364.5,673.0L367.4,676.8L370.1,680.6L372.7,684.5L375.2,688.5L377.6,692.6L379.9,696.6L382.1,700.7L384.1,704.8L386.0,709.0L387.7,713.1L389.3,717.2L390.7,721.2L392.0,725.2L393.1,729.2L394.1,733.1L394.8,736.9L395.5,740.7L395.9,744.3L396.2,747.9L396.3,751.3L396.2,754.6L395.9,757.8L395.5,760.8L394.9,763.7L394.1,766.4L393.2,769.0L392.1,771.4L390.9,773.6L389.4,775.6L387.9,777.4L386.1,779.1L384.3,780.5L382.3,781.7L380.1,782.7L377.8,783.6L375.4,784.2L372.9,784.6L370.3,784.7L367.6,784.7L364.8,784.4L361.9,784.0L358.9,783.3L355.8,782.4L352.7,781.3L349.5,780.0L346.3,778.5L343.1,776.7L339.8,774.8L336.5,772.8L333.2,770.5L329.9,768.0L326.6,765.4L323.3,762.6L320.0,759.7L316.8,756.6L313.6,753.4L310.5,750.0L307.5,746.5L304.5,743.0L301.6,739.3L298.7,735.5L296.0,731.6L293.4,727.7L290.9,723.7L288.4,719.7L286.2,715.6L284.0,711.5L282.0,707.4L280.1,703.3L278.4,699.2L276.8,695.1L275.4,691.0L274.1,687.0L273.0,683.1L272.0,679.2L271.2,675.3L270.6,671.6L270.2,667.9L269.9,664.4L269.8,661.0L269.9,657.7L270.2,654.5L270.6,651.4L271.2,648.6L272.0,645.8L272.9,643.3L274.0,640.9L275.2,638.7L276.7,636.7L278.2,634.8L280.0,633.2Z" fill="url(#gBore)" stroke="#111" stroke-width="4.2" stroke-linejoin="round"/>
<g clip-path="url(#cBore)">
<path d="M300.5,632.4L300.4,635.0L300.3,637.6L300.4,640.3L300.5,643.1L300.8,645.9L301.1,648.8L301.5,651.8L302.1,654.8L302.7,657.8L303.4,660.9L304.1,664.0L305.0,667.1L306.0,670.3L307.0,673.5L308.1,676.7L309.4,680.0L310.6,683.2L312.0,686.5L313.5,689.8L315.0,693.0L316.6,696.3L318.3,699.6L320.0,702.8L321.8,706.1L323.7,709.3L325.6,712.5L327.6,715.7L329.7,718.8L331.8,721.9L334.0,725.0L336.2,728.0L338.5,731.0L340.8,733.9L343.1,736.8L345.5,739.6L348.0,742.4L350.4,745.1L352.9,747.7L355.5,750.3L358.0,752.7L360.6,755.2L363.2,757.5L365.8,759.8L368.4,761.9L371.0,764.0L373.6,766.0L376.3,767.9L378.9,769.7L381.5,771.4L384.1,773.0L386.7,774.5L389.3,775.9" fill="none" stroke="#f4f6fa" stroke-width="2.6"/>
<path d="M296.9,626.6L295.9,628.3L295.0,630.1L294.1,632.0L293.3,633.9L292.7,636.0L292.1,638.1L291.6,640.3L291.2,642.6L290.9,645.0L290.6,647.4L290.5,650.0L290.4,652.6L290.5,655.2L290.6,657.9L290.8,660.7L291.1,663.5L291.5,666.4L292.0,669.3L292.6,672.3L293.3,675.3L294.0,678.4L294.8,681.5L295.8,684.6L296.8,687.7L297.9,690.9L299.0,694.0L300.3,697.2L301.6,700.4L303.0,703.6L304.5,706.9L306.0,710.1L307.7,713.3L309.4,716.5L311.1,719.7L313.0,722.8L314.8,726.0L316.8,729.1L318.8,732.2L320.9,735.2L323.0,738.3L325.1,741.2L327.4,744.2L329.6,747.1L331.9,749.9L334.3,752.7L336.6,755.4L339.1,758.1L341.5,760.7L344.0,763.2L346.5,765.7L349.0,768.1L351.5,770.4L354.1,772.6L356.6,774.8L359.2,776.9L361.8,778.8L364.4,780.7L366.9,782.5L369.5,784.2L372.1,785.8L374.7,787.4" fill="none" stroke="#111" stroke-width="4.2" stroke-linejoin="round" stroke-linecap="round"/>
<path d="M306.5,621.0L306.0,623.3L305.5,625.7L305.2,628.1L305.0,630.6L304.9,633.2L304.8,635.9L304.9,638.6L305.0,641.4L305.3,644.3L305.6,647.2L306.0,650.1L306.5,653.1L307.1,656.2L307.8,659.3L308.6,662.4L309.5,665.6L310.5,668.8L311.5,672.0L312.6,675.2L313.9,678.5L315.2,681.8L316.5,685.1L318.0,688.4L319.5,691.7L321.2,694.9L322.8,698.2L324.6,701.5L326.4,704.8L328.3,708.0L330.3,711.2L332.3,714.4L334.4,717.6L336.5,720.7L338.7,723.8L340.9,726.8L343.2,729.8L345.6,732.7L347.9,735.6L350.3,738.5L352.8,741.2L355.3,743.9L357.8,746.6L360.3,749.1L362.9,751.6L365.5,754.1L368.1,756.4L370.7,758.6L373.4,760.8L376.0,762.9L378.7,764.9L381.3,766.8L383.9,768.6L386.6,770.3L389.2,771.9L391.8,773.4L394.4,774.7" fill="none" stroke="#111" stroke-width="4.2" stroke-linejoin="round" stroke-linecap="round"/>
</g>
<path d="M237.5,753.8L397.5,660.0" stroke="#111" stroke-width="4.2" stroke-linecap="butt"/>
<path d="M408.8,653.8L420.0,647.5" stroke="#111" stroke-width="4.2" stroke-linecap="butt"/>
<path d="M430.0,641.2L575.0,555.0" stroke="#111" stroke-width="4.2" stroke-linecap="butt"/>
<path d="M602.5,538.8L612.5,533.8" stroke="#111" stroke-width="4.2" stroke-linecap="butt"/>
<path d="M622.5,527.5L784.0,433.5" stroke="#111" stroke-width="4.2" stroke-linecap="butt"/>
<path d="M841.0,400.0L975.0,321.0" stroke="#111" stroke-width="4.2" stroke-linecap="butt"/>
<path d="M987.5,312.5L993.8,307.5" stroke="#111" stroke-width="4.2" stroke-linecap="butt"/>
<path d="M1008.8,301.2L1126.7,231.7" stroke="#111" stroke-width="4.2" stroke-linecap="butt"/>
<path d="M71.2,673.8L367.0,496.5" stroke="#111" stroke-width="4.2" stroke-linecap="butt"/>
<path d="M235.0,955.5L530.0,780.0" stroke="#111" stroke-width="4.2" stroke-linecap="butt"/>
<path d="M93.8,667.5L111.2,680.5L96.5,689.1Z" fill="#111"/>
<path d="M102.8,683.0L150.0,763.8" stroke="#111" stroke-width="4.2" stroke-linecap="butt"/>
<path d="M248.8,938.8L231.3,925.9L245.9,917.2Z" fill="#111"/>
<path d="M186.0,832.5L239.6,923.3" stroke="#111" stroke-width="4.2" stroke-linecap="butt"/>
<path d="M396.0,755.0L396.0,1013.5" stroke="#111" stroke-width="4.2" stroke-linecap="butt"/>
<path d="M900.0,545.0L900.0,720.0" stroke="#111" stroke-width="4.2" stroke-linecap="butt"/>
<path d="M402.5,955.0L415.6,937.7L424.1,952.4Z" fill="#111"/>
<path d="M418.1,946.0L587.0,849.2" stroke="#111" stroke-width="4.2" stroke-linecap="butt"/>
<path d="M888.5,671.5L875.5,688.9L866.9,674.2Z" fill="#111"/>
<path d="M683.8,790.8L872.9,680.6" stroke="#111" stroke-width="4.2" stroke-linecap="butt"/>
<path d="M462.5,321.0L475.5,303.6L484.1,318.3Z" fill="#111"/>
<path d="M659.5,206.0L646.5,223.4L637.9,208.7Z" fill="#111"/>
<path d="M478.0,311.9L644.0,215.1" stroke="#111" stroke-width="4.2" stroke-linecap="butt"/>
<path d="M562.5,263.0L562.5,487.5" stroke="#111" stroke-width="4.2" stroke-linecap="butt"/>
<path d="M1005.0,390.0L1033.3,453.3L1131.7,453.3" fill="none" stroke="#111" stroke-width="4.2" stroke-linejoin="round" stroke-linecap="round"/>
<text x="1053" y="448" style="font-family:&quot;Liberation Sans&quot;,sans-serif;font-weight:bold;font-size:44px;fill:#000;stroke:#000;stroke-width:0.7px">SK</text>
<text transform="translate(489,289) rotate(-30.3)" style="font-family:&quot;Liberation Sans&quot;,sans-serif;font-weight:bold;font-size:44px;fill:#000;stroke:#000;stroke-width:0.7px">LCOMP</text>
<text transform="translate(133,832) rotate(-30.8)" style="font-family:&quot;Liberation Sans&quot;,sans-serif;font-weight:bold;font-size:44px;fill:#000;stroke:#000;stroke-width:0.7px">DLN</text>
<text transform="translate(602,854.5) rotate(-31.5)" style="font-family:&quot;Liberation Sans&quot;,sans-serif;font-weight:bold;font-size:44px;fill:#000;stroke:#000;stroke-width:0.7px">LPR</text>
</svg>
</body></html>
